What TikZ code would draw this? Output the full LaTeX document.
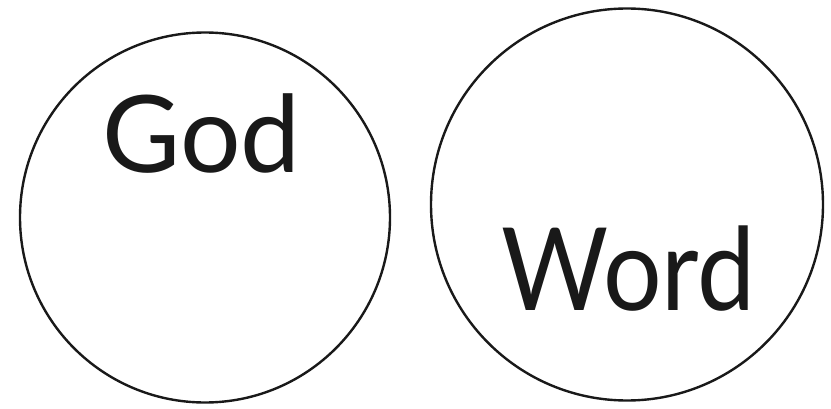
\documentclass[tikz,border=0pt]{standalone}
\usepackage{fontspec}
\setmainfont{Lato}
\begin{document}
\begin{tikzpicture}[x=1pt,y=1pt,
  ring/.style={draw=black!90,line width=2.4pt,circle,inner sep=0pt},
  word/.style={anchor=base,inner sep=0pt,text=black!90}]
\useasboundingbox (0,0) rectangle (831,408);
\node[ring,minimum size=370pt] (left) at (205,190.5) {};
\node[ring,minimum size=392pt] (right) at (627,203.5) {};
\node[word,font=\fontsize{107}{107}\selectfont] (god) at (201.5,236) {God};
\node[word,font=\fontsize{115}{115}\selectfont,xscale=0.9] (wordtxt) at (628.5,98) {Word};
\end{tikzpicture}
\end{document}
